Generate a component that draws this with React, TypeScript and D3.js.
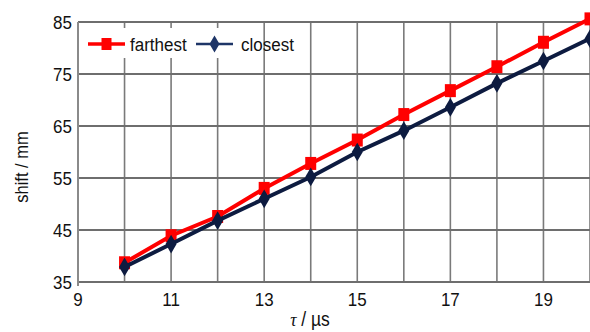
import { useEffect, useRef } from 'react';
import * as d3 from 'd3';

// delay tau (µs) and measured shift (mm)
const tau = [10, 11, 12, 13, 14, 15, 16, 17, 18, 19, 20];
const farthest = [38.7, 43.9, 47.6, 53.0, 57.8, 62.3, 67.2, 71.8, 76.4, 81.1, 85.6];
const closest = [37.9, 42.3, 46.8, 51.0, 55.2, 60.0, 64.1, 68.6, 73.2, 77.5, 81.8];
const xTicks = [9, 11, 13, 15, 17, 19];
const yTicks = [35, 45, 55, 65, 75, 85];

const W = 590;
const H = 332;
const margin = { top: 22, right: 0, bottom: 50, left: 78 };
const font = '"Liberation Sans", Arial, sans-serif';
const stretch = 1.12; // labels in the original look a bit tall

const App = () => {
    const svgRef = useRef<SVGSVGElement>(null);

    useEffect(() => {
        const root = d3.select(svgRef.current);
        root.selectAll('*').remove();

        const x = d3.scaleLinear().domain([9, 20]).range([margin.left, W - margin.right]);
        const y = d3.scaleLinear().domain([35, 85]).range([H - margin.bottom, margin.top]);

        const grid = root.append('g');
        grid.selectAll('.vg')
            .data(d3.range(10, 21))
            .enter()
            .append('line')
            .attr('x1', d => x(d)).attr('x2', d => x(d))
            .attr('y1', y(85)).attr('y2', y(35))
            .attr('stroke', '#7a7a7a').attr('stroke-width', 1.6);
        grid.selectAll('.hg')
            .data(yTicks)
            .enter()
            .append('line')
            .attr('x1', x(9)).attr('x2', W)
            .attr('y1', d => y(d)).attr('y2', d => y(d))
            .attr('stroke', '#6e6e6e').attr('stroke-width', 1.8);
        grid.append('line')
            .attr('x1', x(9)).attr('x2', x(9))
            .attr('y1', y(85)).attr('y2', y(35) + 4)
            .attr('stroke', '#8a8a8a').attr('stroke-width', 2);

        // tick labels
        root.append('g').selectAll('text')
            .data(yTicks)
            .enter()
            .append('text')
            .attr('transform', d => `translate(${margin.left - 6},${y(d)}) scale(1,${stretch})`)
            .attr('dy', '0.36em')
            .attr('text-anchor', 'end')
            .attr('font-family', font).attr('font-size', 17)
            .attr('fill', '#111')
            .text(d => d);
        root.append('g').selectAll('text')
            .data(xTicks)
            .enter()
            .append('text')
            .attr('transform', d => `translate(${x(d)},${y(35) + 24}) scale(1,${stretch})`)
            .attr('text-anchor', 'middle')
            .attr('font-family', font).attr('font-size', 17)
            .attr('fill', '#111')
            .text(d => d);

        // axis titles
        root.append('text')
            .attr('transform', `translate(${28},${167}) rotate(-90) scale(1,${stretch})`)
            .attr('text-anchor', 'middle')
            .attr('font-family', font).attr('font-size', 16.5)
            .attr('fill', '#111')
            .text('shift / mm');
        const xt = root.append('text')
            .attr('transform', `translate(310,${H - 6}) scale(1,${stretch})`)
            .attr('text-anchor', 'middle')
            .attr('font-family', font).attr('font-size', 17.5)
            .attr('fill', '#111');
        xt.append('tspan').attr('font-style', 'italic').attr('font-family', '"Liberation Serif", serif').text('τ');
        xt.append('tspan').text(' / µs');

        const series = [
            { name: 'farthest', values: farthest, color: '#ff0000', marker: 'square' },
            { name: 'closest', values: closest, color: '#0d1b40', marker: 'diamond' },
        ];

        const line = d3.line<number>()
            .x((_, i) => x(tau[i]))
            .y(d => y(d));

        const sym = (m: string, s: number) =>
            m === 'square'
                ? `M${-s / 2},${-s / 2 - 1}h${s}v${s + 2}h${-s}Z`
                : `M0,${-s * 0.85}L${s * 0.5},0L0,${s * 0.85}L${-s * 0.5},0Z`;

        series.forEach(sr => {
            const g = root.append('g');
            g.append('path')
                .datum(sr.values)
                .attr('d', line)
                .attr('fill', 'none')
                .attr('stroke', sr.color)
                .attr('stroke-width', 4);
            g.selectAll('path.m')
                .data(sr.values)
                .enter()
                .append('path')
                .attr('class', 'm')
                .attr('transform', (d, i) => `translate(${x(tau[i])},${y(d)})`)
                .attr('d', sym(sr.marker, 11))
                .attr('fill', sr.color);
        });

        // legend
        const lg = root.append('g');
        lg.append('rect')
            .attr('x', x(9) + 2).attr('y', 28)
            .attr('width', 182).attr('height', 30)
            .attr('fill', '#fff');
        const items = [
            { ...series[0], lx: 88, tx: 130, lineColor: '#ff0000', lw: 3.5 },
            { ...series[1], lx: 196, tx: 241, lineColor: '#1e3567', lw: 2.5 },
        ];
        items.forEach(it => {
            lg.append('line')
                .attr('x1', it.lx).attr('x2', it.lx + 37)
                .attr('y1', 44).attr('y2', 44)
                .attr('stroke', it.lineColor).attr('stroke-width', it.lw);
            lg.append('path')
                .attr('transform', `translate(${it.lx + 18.5},44)`)
                .attr('d', sym(it.marker, 10))
                .attr('fill', it.lineColor);
            lg.append('text')
                .attr('transform', `translate(${it.tx},44) scale(1,${stretch})`)
                .attr('dy', '0.36em')
                .attr('font-family', font).attr('font-size', 17)
                .attr('fill', '#111')
                .text(it.name);
        });
    }, []);

    return (
        <svg
            ref={svgRef}
            width={W}
            height={H}
            style={{ position: 'absolute', left: 0, top: 0, background: '#fff' }}
        />
    );
};

export default App;
